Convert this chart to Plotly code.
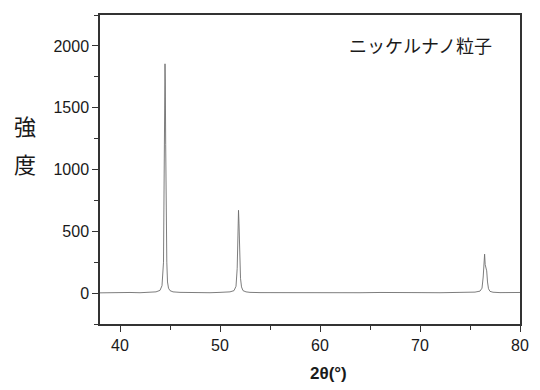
import plotly.graph_objects as go

two_theta = [38.0, 39.0, 40.0, 41.0, 42.0, 43.0, 43.6, 44.0, 44.2, 44.35, 44.42, 44.47, 44.5, 44.53,
             44.57, 44.62, 44.68, 44.75, 44.85, 45.0, 45.3, 46.0, 47.0, 48.0, 49.0, 50.0, 51.0,
             51.4, 51.6, 51.72, 51.8, 51.85, 51.9, 51.97, 52.05, 52.15, 52.3, 52.6, 53.0, 54.0,
             56.0, 58.0, 60.0, 62.0, 64.0, 66.0, 68.0, 70.0, 72.0, 74.0, 75.5, 76.0, 76.2, 76.32,
             76.4, 76.46, 76.52, 76.6, 76.67, 76.75, 76.85, 77.0, 77.3, 78.0, 79.0, 80.0]
intensity = [2, 4, 1, 5, 3, 6, 10, 22, 60, 250, 900, 1600, 1855, 1700,
             1200, 600, 250, 90, 40, 20, 10, 6, 4, 5, 3, 6, 10,
             20, 55, 200, 520, 670, 560, 300, 120, 50, 20, 10, 6, 4,
             3, 5, 2, 4, 3, 5, 2, 4, 3, 5, 8, 16, 40, 130,
             250, 315, 230, 185, 180, 90, 35, 14, 7, 4, 3, 5]

x_ticks = [40, 50, 60, 70, 80]
y_ticks = [0, 500, 1000, 1500, 2000]

fig = go.Figure()
fig.add_trace(go.Scatter(x=two_theta, y=intensity, mode="lines",
                         line=dict(color="#6e6e6e", width=0.9), showlegend=False))

axis_common = dict(showline=True, linecolor="#333333", linewidth=1.5, mirror=True,
                   showgrid=False, zeroline=False, ticks="outside", ticklen=6,
                   tickwidth=1.2, tickcolor="#333333",
                   tickfont=dict(family="Liberation Sans, Arial", size=16, color="#1a1a1a"))

fig.update_xaxes(range=[38, 80], tickvals=x_ticks,
                 minor=dict(dtick=5, ticks="outside", ticklen=4, tickcolor="#333333", tickwidth=1.2),
                 **axis_common)
fig.update_yaxes(range=[-250, 2250], tickvals=y_ticks,
                 minor=dict(dtick=250, ticks="outside", ticklen=4, tickcolor="#333333", tickwidth=1.2),
                 **axis_common)

fig.add_annotation(text="<b>2θ(°)</b>", xref="paper", yref="paper", x=0.545, y=-0.159,
                   xanchor="center", yanchor="middle", showarrow=False,
                   font=dict(family="Liberation Sans, Arial", size=17, color="#1a1a1a"))
fig.add_annotation(text="強", xref="paper", yref="paper", x=-0.178, y=0.644,
                   xanchor="center", yanchor="middle", showarrow=False,
                   font=dict(family="Noto Sans CJK JP", size=22, color="#1a1a1a"))
fig.add_annotation(text="度", xref="paper", yref="paper", x=-0.178, y=0.521,
                   xanchor="center", yanchor="middle", showarrow=False,
                   font=dict(family="Noto Sans CJK JP", size=22, color="#1a1a1a"))
fig.add_annotation(text="ニッケルナノ粒子", xref="paper", yref="paper", x=0.762, y=0.903,
                   xanchor="center", yanchor="middle", showarrow=False,
                   font=dict(family="Noto Sans CJK JP", size=18, color="#1a1a1a"))

fig.update_layout(width=540, height=390, margin=dict(l=100, r=20, t=15, b=66),
                  paper_bgcolor="white", plot_bgcolor="white")

fig.write_html("out.html")
